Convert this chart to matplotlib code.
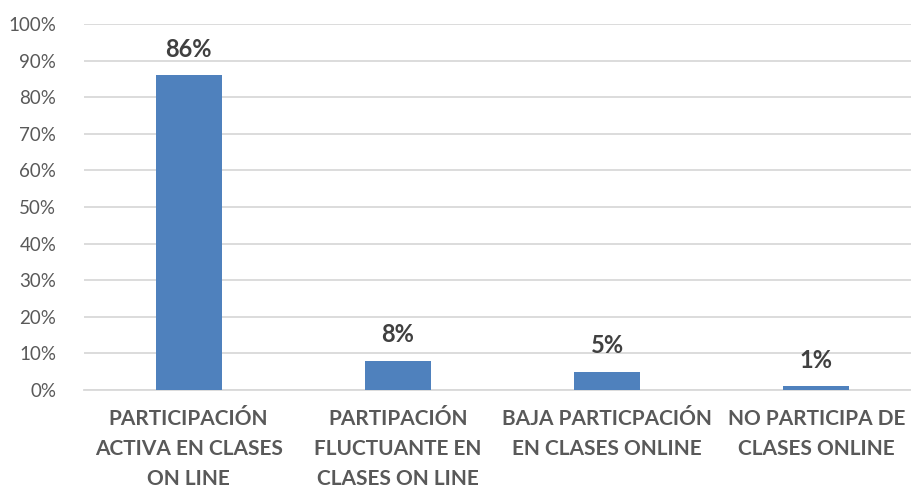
import matplotlib.pyplot as plt
from matplotlib.ticker import PercentFormatter

categories = [
    'PARTICIPACIÓN\nACTIVA EN CLASES\nON LINE',
    'PARTIPACIÓN\nFLUCTUANTE EN\nCLASES ON LINE',
    'BAJA PARTICPACIÓN\nEN CLASES ONLINE',
    'NO PARTICIPA DE\nCLASES ONLINE',
]
values = [86, 8, 5, 1]
y_ticks = list(range(0, 101, 10))

plt.rcParams['font.family'] = ['Lato', 'DejaVu Sans']

fig = plt.figure(figsize=(9.12, 4.88), dpi=100)
ax = fig.add_axes([84 / 912, 98 / 488, 837 / 912, 366 / 488])

x = range(len(values))
ax.bar(x, values, width=0.315, color='#4F81BD', zorder=3)

for xi, v in zip(x, values):
    ax.text(xi, v + 4, f'{v}%', ha='center', va='bottom',
            fontsize=17, fontweight='bold', color='#404040')

ax.set_xlim(-0.5, 3.5)
ax.set_ylim(0, 100)
ax.set_yticks(y_ticks)
ax.yaxis.set_major_formatter(PercentFormatter(decimals=0))
ax.set_xticks(list(x))
ax.set_xticklabels(categories, fontsize=15, fontweight='bold',
                   color='#595959', linespacing=1.6)
ax.tick_params(axis='y', labelsize=13.5, labelcolor='#595959', length=0, pad=20)
ax.tick_params(axis='x', length=0, pad=14)

ax.grid(axis='y', color='#D9D9D9', linewidth=1.3, zorder=0)
for side in ['top', 'right', 'left']:
    ax.spines[side].set_visible(False)
ax.spines['bottom'].set_color('#D9D9D9')
ax.spines['bottom'].set_linewidth(1.3)

fig.savefig('out.png', dpi=100, facecolor='white')
